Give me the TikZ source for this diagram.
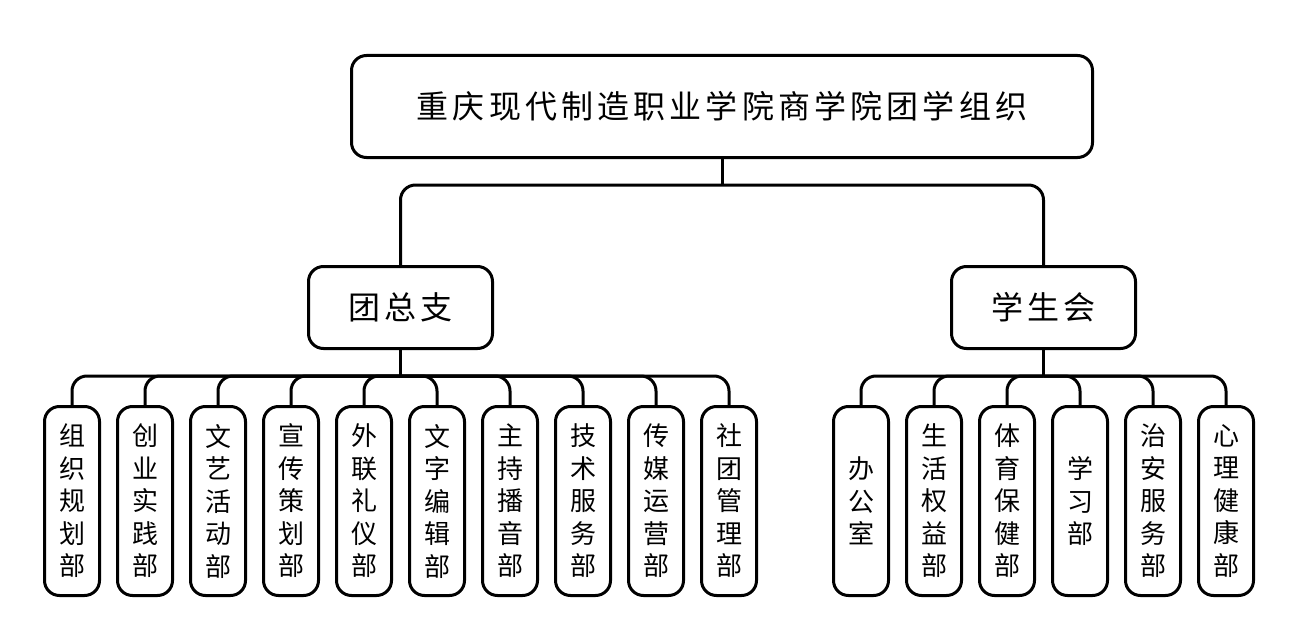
\documentclass[tikz,border=0pt]{standalone}
\usepackage{fontspec}
\setmainfont{Noto Sans CJK SC}
\usetikzlibrary{positioning}

\begin{document}
\begin{tikzpicture}[
  x=1pt, y=-1pt,
  every node/.style={font=\fontsize{26}{32.5}\selectfont},
  topbox/.style={
    draw, line width=3pt, rounded corners=15pt, inner sep=0pt,
    minimum width=741pt, minimum height=102pt,
    font=\fontsize{32}{36}\selectfont\addfontfeature{LetterSpace=13}
  },
  midbox/.style={
    draw, line width=3pt, rounded corners=15pt, inner sep=0pt,
    minimum width=184pt, minimum height=82pt,
    font=\fontsize{32}{36}\selectfont\addfontfeature{LetterSpace=13}
  },
  leaf/.style={
    draw, line width=3pt, rounded corners=15pt, inner sep=0pt,
    minimum width=55pt, minimum height=189pt, align=center
  },
  conn/.style={line width=3pt, rounded corners=15pt}
]
  \useasboundingbox (0,0) rectangle (1304,642);

  % top level
  \node[topbox] (top) at (722,106.5) {重庆现代制造职业学院商学院团学组织};

  % second level
  \node[midbox] (tzz) at (400.5,307.5) {团总支};
  \node[midbox] (xsh) at (1043.5,307.5) {学生会};

  % departments
  \foreach \dept [count=\i from 0] in {
      {组\\织\\规\\划\\部}, {创\\业\\实\\践\\部}, {文\\艺\\活\\动\\部},
      {宣\\传\\策\\划\\部}, {外\\联\\礼\\仪\\部}, {文\\字\\编\\辑\\部},
      {主\\持\\播\\音\\部}, {技\\术\\服\\务\\部}, {传\\媒\\运\\营\\部},
      {社\\团\\管\\理\\部}}
    \node[leaf] (tz\i) at (72+73*\i,501) {\dept};
  \foreach \dept [count=\i from 0] in {
      {办\\公\\室}, {生\\活\\权\\益\\部}, {体\\育\\保\\健\\部},
      {学\\习\\部}, {治\\安\\服\\务\\部}, {心\\理\\健\\康\\部}}
    \node[leaf] (xs\i) at (861+73*\i,501) {\dept};

  % bus points
  \coordinate (topbus) at (722,185);
  \coordinate (tzbus) at (400.5,376);
  \coordinate (xsbus) at (1043.5,376);

  % connectors
  \draw[conn] (top.south) -- (topbus);
  \draw[conn] (tzz.north) |- (topbus) -| (xsh.north);
  \draw[conn] (tzz.south) -- (tzbus);
  \draw[conn] (xsh.south) -- (xsbus);
  \foreach \i in {0,...,9}
    \draw[conn] (tzbus) -| (tz\i.north);
  \foreach \i in {0,...,5}
    \draw[conn] (xsbus) -| (xs\i.north);

\end{tikzpicture}
\end{document}
